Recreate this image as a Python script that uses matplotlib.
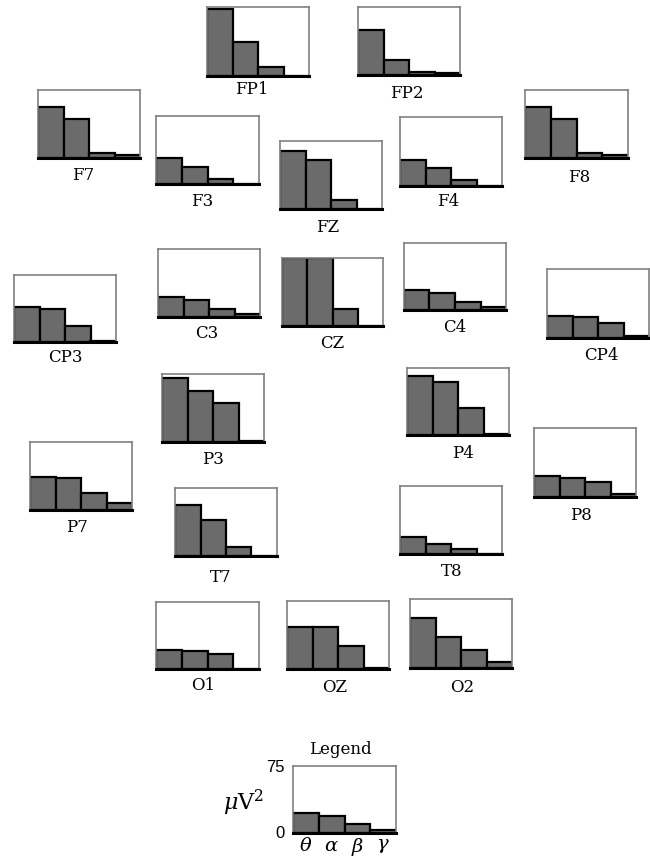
import matplotlib.pyplot as plt

plt.rcParams['mathtext.fontset'] = 'dejavuserif'

# band power (uV^2) per electrode: theta, alpha, beta, gamma
electrodes = ['FP1', 'FP2', 'F7', 'F3', 'FZ', 'F4', 'F8',
              'CP3', 'C3', 'CZ', 'C4', 'CP4',
              'P3', 'P4', 'P7', 'P8', 'T7', 'T8',
              'O1', 'OZ', 'O2']
theta = [73, 50, 56, 29, 64, 28, 56, 39, 22, 75, 22, 24, 71, 66, 36, 23, 56, 19, 21, 46, 54]
alpha = [37, 16, 43, 19, 54, 20, 43, 37, 19, 75, 19, 23, 56, 59, 35, 21, 40, 11, 20, 46, 34]
beta = [10, 3, 6, 5, 10, 6, 6, 18, 9, 19, 9, 16, 43, 30, 19, 16, 10, 6, 17, 25, 20]
gamma = [0, 2, 3, 0, 0, 0, 3, 1, 3, 0, 3, 2, 1, 1, 8, 3, 0, 0, 0, 1, 6]

legend_vals = [22, 19, 10, 3]
band_labels = [r'$\theta$', r'$\alpha$', r'$\beta$', r'$\gamma$']
ymax = 75

# box layout in pixels: left, top, right, bottom, label x, label y
layout = {
    'FP1': (207, 7, 309, 76, 252, 90),
    'FP2': (358, 7, 460, 75, 407, 93),
    'F7': (38, 90, 140, 158, 83, 175),
    'F3': (156, 116, 259, 184, 202, 201),
    'FZ': (280, 141, 382, 209, 328, 227),
    'F4': (400, 117, 502, 186, 448, 202),
    'F8': (525, 90, 628, 158, 579, 178),
    'CP3': (14, 275, 116, 342, 65, 357),
    'C3': (158, 249, 260, 317, 207, 334),
    'CZ': (282, 258, 383, 326, 332, 343),
    'C4': (404, 243, 506, 310, 455, 328),
    'CP4': (547, 269, 649, 338, 601, 355),
    'P3': (162, 374, 264, 442, 213, 459),
    'P4': (407, 368, 509, 435, 463, 453),
    'P7': (30, 442, 132, 510, 77, 528),
    'P8': (534, 428, 636, 497, 581, 515),
    'T7': (175, 488, 277, 556, 221, 577),
    'T8': (400, 486, 502, 554, 452, 572),
    'O1': (156, 602, 259, 669, 203, 685),
    'OZ': (287, 601, 389, 669, 335, 687),
    'O2': (410, 599, 512, 668, 462, 687),
}

W, H = 650, 859
fig = plt.figure(figsize=(W / 100, H / 100), dpi=100)
fig.patch.set_facecolor('white')

label_font = dict(family='DejaVu Serif', fontsize=12)


def band_axes(x0, y0, x1, y1, vals):
    ax = fig.add_axes([x0 / W, 1 - y1 / H, (x1 - x0) / W, (y1 - y0) / H])
    ax.bar(range(4), vals, width=1.0, align='edge', color='#6b6b6b',
           edgecolor='black', linewidth=1.6)
    ax.set_xlim(0, 4)
    ax.set_ylim(0, ymax)
    ax.set_xticks([])
    ax.set_yticks([])
    for side in ['top', 'left', 'right']:
        ax.spines[side].set_color('#808080')
        ax.spines[side].set_linewidth(1.2)
    ax.spines['bottom'].set_color('black')
    ax.spines['bottom'].set_linewidth(2.2)
    return ax


for i, name in enumerate(electrodes):
    x0, y0, x1, y1, lx, ly = layout[name]
    band_axes(x0, y0, x1, y1, [theta[i], alpha[i], beta[i], gamma[i]])
    fig.text(lx / W, 1 - ly / H, name, ha='center', va='center', **label_font)

# legend panel
lax = band_axes(293, 766, 396, 833, legend_vals)
fig.text(340 / W, 1 - 749 / H, 'Legend', ha='center', va='center',
         family='DejaVu Serif', fontsize=12)
fig.text(285 / W, 1 - 768 / H, '75', ha='right', va='center',
         family='Liberation Sans', fontsize=12)
fig.text(285 / W, 1 - 833 / H, '0', ha='right', va='center',
         family='Liberation Sans', fontsize=12)
fig.text(243 / W, 1 - 803 / H, r'$\mu$V$^{2}$', ha='center', va='center',
         family='DejaVu Serif', fontsize=16)
for k, lab in enumerate(band_labels):
    lax.text(k + 0.5, -0.05, lab, transform=lax.get_xaxis_transform(),
             ha='center', va='top', fontsize=14)

fig.savefig('out.png', dpi=100)
